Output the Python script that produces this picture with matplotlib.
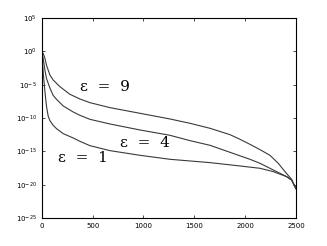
import matplotlib
matplotlib.use("Agg")
import matplotlib.pyplot as plt
import numpy as np

# curve samples (x, log10 y)
x_eps9 = [0, 15, 30, 46, 79, 111, 177, 276, 374, 472, 669, 965, 1260, 1457,
          1654, 1850, 1949, 2047, 2146, 2244, 2326, 2392, 2457, 2500]
log_eps9 = [0, -0.4, -1.05, -2.1, -3.55, -4.3, -5.3, -6.45, -7.15, -7.7, -8.45,
            -9.3, -10.15, -10.8, -11.55, -12.5, -13.2, -13.95, -14.75, -15.6,
            -16.8, -18.05, -19.2, -20.6]

x_eps4 = [0, 15, 30, 46, 79, 111, 144, 210, 308, 374, 472, 669, 965, 1260,
          1457, 1654, 1916, 2047, 2146, 2277, 2408, 2457, 2500]
log_eps4 = [0, -1.3, -2.8, -4.1, -5.5, -6.6, -7.2, -8.2, -9.1, -9.6, -10.2,
            -10.9, -11.8, -12.6, -13.4, -14.1, -15.5, -16.2, -16.8, -17.8,
            -18.8, -19.3, -20.6]

x_eps1 = [0, 8, 15, 30, 46, 62, 79, 111, 144, 210, 308, 374, 472, 669, 965,
          1260, 1654, 1949, 2146, 2277, 2408, 2457, 2500]
log_eps1 = [0, -2.0, -3.5, -6.0, -8.3, -9.7, -10.4, -11.1, -11.6, -12.35,
            -13.0, -13.5, -14.15, -14.9, -15.6, -16.2, -16.7, -17.2, -17.55,
            -18.05, -18.8, -19.3, -20.6]

labels = ["ε  =  9", "ε  =  4", "ε  =  1"]
label_x = [375, 770, 160]
label_log = [-5.3, -13.8, -16.0]

xticks = [0, 500, 1000, 1500, 2000, 2500]
ytick_exp = [5, 0, -5, -10, -15, -20, -25]

fig = plt.figure(figsize=(3.27, 2.46), dpi=100)
ax = fig.add_axes([0.128, 0.114, 0.777, 0.813])

for xs, ls in [(x_eps9, log_eps9), (x_eps4, log_eps4), (x_eps1, log_eps1)]:
    ax.semilogy(xs, 10.0 ** np.array(ls), color="#3a3a3a", lw=0.8)

for t, xl, yl in zip(labels, label_x, label_log):
    ax.text(xl, 10.0 ** yl, t, family="DejaVu Serif", fontsize=11,
            va="center", ha="left")

ax.set_xlim(0, 2500)
ax.set_ylim(1e-25, 1e5)
ax.set_xticks(xticks)
ax.set_xticklabels([str(v) for v in xticks])
ax.set_yticks([10.0 ** e for e in ytick_exp])
ax.set_yticklabels([r"$10^{%d}$" % e for e in ytick_exp])
ax.minorticks_off()
ax.tick_params(direction="in", length=2, width=0.5, labelsize=5,
               top=True, right=True)
for s in ax.spines.values():
    s.set_linewidth(0.8)

fig.savefig("out.png", dpi=100)
